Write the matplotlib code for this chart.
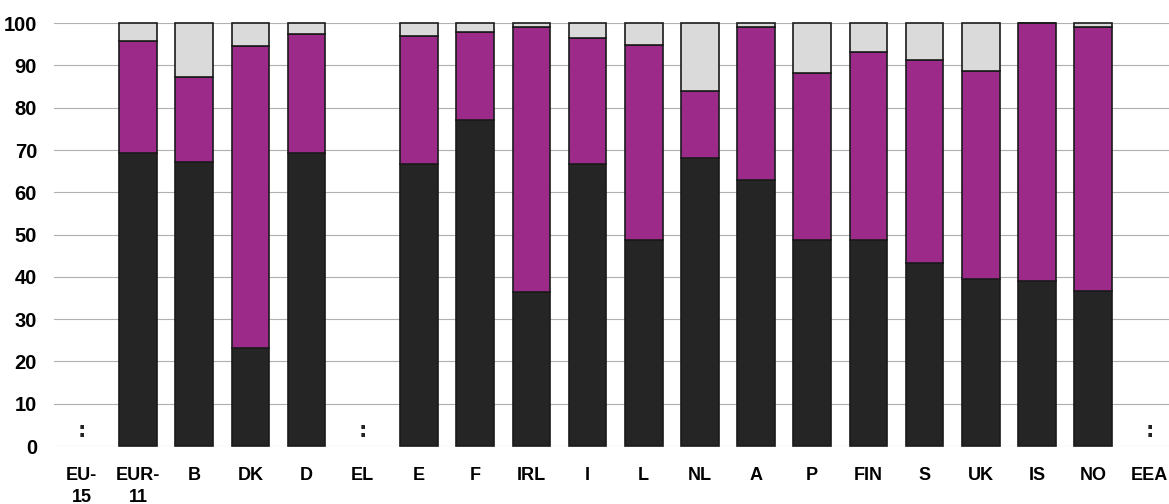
import numpy as np
import matplotlib.pyplot as plt

# categories (":" = not available)
categories = ["EU-\n15", "EUR-\n11", "B", "DK", "D", "EL", "E", "F", "IRL", "I",
              "L", "NL", "A", "P", "FIN", "S", "UK", "IS", "NO", "EEA"]
missing = ["EU-\n15", "EL", "EEA"]

# bottom (black), middle (purple), top (grey) shares in %
black = [0, 69.3, 67.2, 23.2, 69.3, 0, 66.8, 77.0, 36.5, 66.8,
         48.7, 68.0, 63.0, 48.7, 48.7, 43.3, 39.5, 39.0, 36.7, 0]
purple = [0, 26.4, 20.1, 71.3, 28.2, 0, 30.1, 20.8, 62.5, 29.8,
          46.1, 16.0, 36.0, 39.5, 44.6, 48.1, 49.1, 61.0, 62.3, 0]
grey = [0, 4.3, 12.7, 5.5, 2.5, 0, 3.1, 2.2, 1.0, 3.4,
        5.2, 16.0, 1.0, 11.8, 6.7, 8.6, 11.4, 0, 1.0, 0]

c_black = "#252525"
c_purple = "#9b2a88"
c_grey = "#dadada"

fig = plt.figure(figsize=(11.69, 5.04), dpi=100)
fig.patch.set_facecolor("white")
ax = fig.add_axes([0.046, 0.115, 0.954, 0.839])

x = np.arange(len(categories))
has = np.array([c not in missing for c in categories])
b = np.array(black)
p = np.array(purple)
g = np.array(grey)
w = 0.67
kw = dict(width=w, edgecolor="#1a1a1a", linewidth=1.2, zorder=3, clip_on=False)
ax.bar(x[has], b[has], color=c_black, **kw)
ax.bar(x[has], p[has], bottom=b[has], color=c_purple, **kw)
ax.bar(x[has], g[has], bottom=(b + p)[has], color=c_grey, **kw)

for i, c in enumerate(categories):
    if c in missing:
        ax.text(i, 3.5, ":", ha="center", va="center", fontsize=15,
                fontweight="bold", color="#222222")

ax.set_xlim(-0.5, 19.35)
ax.set_ylim(0, 100)
ax.set_yticks(range(0, 101, 10))
ax.set_xticks(x)
ax.set_xticklabels(categories, fontsize=13, fontweight="bold",
                   family=["Liberation Sans", "DejaVu Sans"], linespacing=1.4,
                   va="top")
ax.tick_params(axis="x", length=0, pad=15)
ax.tick_params(axis="y", length=0, pad=12, labelsize=14.5)
for lab in ax.get_yticklabels():
    lab.set_family(["Liberation Sans Narrow", "Liberation Sans"])
    lab.set_fontweight("bold")

ax.grid(axis="y", color="#b0b0b0", linewidth=0.8, zorder=0)
for s in ax.spines.values():
    s.set_visible(False)

plt.savefig("out.png", dpi=100)
